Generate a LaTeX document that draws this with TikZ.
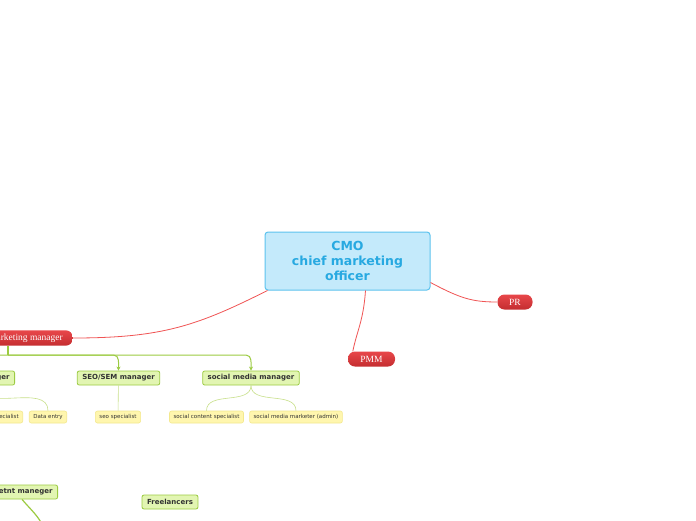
\documentclass[tikz,border=0pt]{standalone}
\usepackage{fontspec}
\setmainfont{DejaVu Sans}
\newfontfamily\slabfont{Liberation Serif}
\usetikzlibrary{arrows.meta,positioning,calc}
\definecolor{MapBlueFill}{HTML}{C4EAFB}
\definecolor{MapBlueLine}{HTML}{5DC3EE}
\definecolor{MapBlueText}{HTML}{27A9E1}
\definecolor{MapRedTop}{HTML}{E8474A}
\definecolor{MapRedBottom}{HTML}{C42D30}
\definecolor{MapRedLine}{HTML}{F05454}
\definecolor{MapGreenFill}{HTML}{E2F5B2}
\definecolor{MapGreenLine}{HTML}{9CCB42}
\definecolor{MapYellowFill}{HTML}{FFF6AE}
\definecolor{MapYellowLine}{HTML}{F3E88E}
\definecolor{MapLeafLine}{HTML}{C8E08A}
\definecolor{MapText}{HTML}{333333}
\tikzset{
    % Central topic
    centralnode/.style={
        rectangle,
        rounded corners=3pt,
        draw=MapBlueLine,
        fill=MapBlueFill,
        line width=1pt,
        text=MapBlueText,
        align=center,
        minimum width=165pt,
        minimum height=58pt,
        font=\fontsize{12.5}{15}\selectfont\bfseries
    },
    % Red main branch
    rednode/.style={
        rectangle,
        rounded corners=7pt,
        top color=MapRedTop,
        bottom color=MapRedBottom,
        draw=none,
        text=white,
        minimum height=15pt,
        inner xsep=10pt,
        font=\slabfont\fontsize{9.5}{11}\selectfont
    },
    % Green sub topic
    greennode/.style={
        rectangle,
        rounded corners=2pt,
        draw=MapGreenLine,
        fill=MapGreenFill,
        line width=0.8pt,
        text=MapText,
        minimum height=14pt,
        inner xsep=5pt,
        font=\fontsize{7}{8}\selectfont\bfseries
    },
    % Yellow leaf
    leafnode/.style={
        rectangle,
        rounded corners=2pt,
        draw=MapYellowLine,
        fill=MapYellowFill,
        line width=0.6pt,
        text=MapText,
        minimum height=12pt,
        inner xsep=4pt,
        font=\fontsize{5.5}{6.5}\selectfont
    },
    % Connectors
    redlink/.style={
        draw=MapRedLine,
        line width=0.8pt
    },
    greenlink/.style={
        draw=MapGreenLine,
        line width=1pt
    },
    leaflink/.style={
        draw=MapLeafLine,
        line width=0.6pt
    }
}
\begin{document}
\begin{tikzpicture}[x=1pt, y=-1pt]
        \useasboundingbox (0,0) rectangle (696,520);
        \clip (0,0) rectangle (696,520);
        \fill[white] (0,0) rectangle (696,520);

        % Central topic and main branches
        \node[centralnode] (cmo) at (347.5,261) {CMO\\chief marketing\\officer};
        \node[rednode, minimum width=35pt] (pr) at (515,302) {PR};
        \node[rednode, minimum width=47pt] (pmm) at (371.5,359) {PMM};
        \node[rednode, anchor=east] (mm) at (73,338) {marketing manager};

        % Sub topics
        \node[greennode, anchor=east] (emailm) at (15,378) {email manager};
        \node[greennode] (seo) at (118.5,378) {SEO/SEM manager};
        \node[greennode] (smm) at (251,378) {social media manager};
        \node[greennode, anchor=east] (contentm) at (58,492) {contetnt maneger};
        \node[greennode] (free) at (170,502) {Freelancers};

        % Leaves
        \node[leafnode, anchor=east] (emails) at (23,417) {email specialist};
        \node[leafnode] (data) at (48,417) {Data entry};
        \node[leafnode] (seos) at (118,417) {seo specialist};
        \node[leafnode] (socialc) at (206.5,417) {social content specialist};
        \node[leafnode] (sociala) at (296,417) {social media marketer (admin)};

        % Red links
        \draw[redlink] ([xshift=3pt]cmo.south west) .. controls +(-70,35) and +(90,0) .. (mm.east);
        \draw[redlink] ([yshift=8pt]cmo.south east) .. controls +(30,16) and +(-25,0) .. (pr.west);
        \draw[redlink] ([xshift=18pt]cmo.south) .. controls +(-2,30) and +(4,-20) .. ([xshift=5pt]pmm.north west);

        % Green links
        \coordinate (hub) at (8,355);
        \draw[greenlink, line width=1.5pt] (mm.south -| hub) -- (hub);
        \draw[greenlink, -{Stealth[length=4pt,width=4pt]}] (hub) -- ($(hub -| seo.north)+(-5,0)$) to[out=0,in=90] (seo.north);
        \draw[greenlink, -{Stealth[length=4pt,width=4pt]}] (hub) -- ($(hub -| smm.north)+(-5,0)$) to[out=0,in=90] (smm.north);
        \draw[greenlink] (hub) -- ($(hub -| emailm.north)+(5,0)$) to[out=180,in=90] (emailm.north);
        \coordinate (offbottom) at (44,528);
        \draw[greenlink, line width=1.2pt] ([xshift=5pt]contentm.south) to[out=-50,in=115] (offbottom);

        % Leaf links
        \draw[leaflink] (seo) -- (seos);
        \draw[leaflink] (smm.south) to[out=-90,in=90] (socialc.north);
        \draw[leaflink] (smm.south) to[out=-90,in=90] (sociala.north);
        \draw[leaflink] (emailm.south) to[out=-90,in=90] (emails.north);
        \draw[leaflink] (emailm.south) to[out=-90,in=90] (data.north);
    \end{tikzpicture}
\end{document}
